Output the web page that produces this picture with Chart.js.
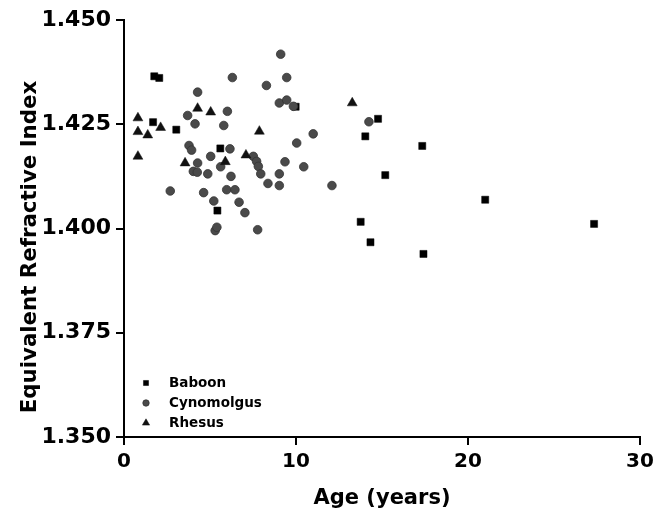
<!DOCTYPE html>
<html><head><meta charset="utf-8">
<script src="https://cdn.jsdelivr.net/npm/chart.js@4.4.1/dist/chart.umd.min.js"></script>
<style>html,body{margin:0;padding:0;background:#fff;}</style>
</head><body>
<canvas id="c" width="666" height="517"></canvas>
<script>
const seriesNames = ['Baboon', 'Cynomolgus', 'Rhesus'];
const xTicks = [0, 10, 20, 30];
const yTicks = [1.350, 1.375, 1.400, 1.425, 1.450];

const baboonAge = [1.76, 2.05, 1.69, 3.04, 5.60, 5.43, 9.98, 14.77, 14.03, 17.34, 15.19, 21.0, 13.76, 14.33, 17.41, 27.33];
const baboonRI  = [1.4365, 1.4361, 1.4255, 1.4237, 1.4192, 1.4043, 1.4292, 1.4263, 1.4221, 1.4198, 1.4128, 1.4069, 1.4016, 1.3967, 1.3939, 1.4011];

const cynoAge = [9.11, 6.30, 9.46, 8.28, 4.28, 9.03, 9.46, 9.85, 3.70, 4.13, 6.01, 5.80, 10.04, 11.0, 3.78, 3.93, 5.04, 4.28, 4.03, 4.26, 4.87, 5.62, 6.16, 6.22, 5.97, 6.45, 2.69, 4.63, 5.22, 6.69, 7.03, 5.30, 5.40, 7.77, 7.52, 7.71, 7.81, 7.95, 8.37, 9.03, 9.03, 9.36, 10.45, 14.24, 12.09];
const cynoRI  = [1.4418, 1.4362, 1.4362, 1.4343, 1.4327, 1.4301, 1.4308, 1.4293, 1.4271, 1.4251, 1.4281, 1.4247, 1.4205, 1.4227, 1.4199, 1.4188, 1.4173, 1.4157, 1.4137, 1.4135, 1.4131, 1.4148, 1.4191, 1.4125, 1.4093, 1.4093, 1.4090, 1.4086, 1.4066, 1.4063, 1.4038, 1.3995, 1.4003, 1.3997, 1.4173, 1.4161, 1.4149, 1.4131, 1.4108, 1.4131, 1.4103, 1.4160, 1.4148, 1.4256, 1.4103];

const rhesusAge = [0.81, 0.81, 1.38, 2.13, 0.81, 3.55, 4.28, 5.04, 5.89, 7.09, 7.87, 13.27];
const rhesusRI  = [1.4265, 1.4232, 1.4224, 1.4242, 1.4173, 1.4157, 1.4288, 1.4279, 1.4160, 1.4176, 1.4233, 1.4301];

const FONT = "'DejaVu Sans', 'Liberation Sans', sans-serif";
Chart.defaults.font.family = FONT;
Chart.defaults.font.weight = 'bold';
Chart.defaults.color = '#000';

function pts(xs, ys) { return xs.map((x, i) => ({x: x, y: ys[i]})); }

const legendRadius = [3.6, 3.2, 4.2];

const insideLegend = {
  id: 'insideLegend',
  afterDatasetsDraw(chart) {
    const ctx = chart.ctx, area = chart.chartArea;
    const x0 = area.left + 22, y0 = area.bottom - 54;
    chart.data.datasets.forEach((d, i) => {
      const y = y0 + i * 20;
      ctx.save();
      ctx.fillStyle = d.backgroundColor;
      ctx.strokeStyle = d.borderColor;
      ctx.lineWidth = d.borderWidth;
      Chart.helpers.drawPoint(ctx, {pointStyle: d.pointStyle, radius: legendRadius[i], borderWidth: d.borderWidth, rotation: 0}, x0, y);
      ctx.fillStyle = '#000';
      ctx.font = "bold 13.5px " + FONT;
      ctx.textBaseline = 'middle';
      ctx.textAlign = 'left';
      ctx.fillText(d.label, x0 + 23, y);
      ctx.restore();
    });
  }
};

new Chart(document.getElementById('c'), {
  type: 'scatter',
  data: {
    datasets: [
      {label: seriesNames[0], data: pts(baboonAge, baboonRI), pointStyle: 'rect', pointRadius: 5, pointHoverRadius: 5,
       backgroundColor: '#000000', borderColor: '#000000', borderWidth: 0.5, order: 3},
      {label: seriesNames[1], data: pts(cynoAge, cynoRI), pointStyle: 'circle', pointRadius: 4.3, pointHoverRadius: 4.3,
       backgroundColor: '#4a4a4a', borderColor: '#333333', borderWidth: 0.8, order: 2},
      {label: seriesNames[2], data: pts(rhesusAge, rhesusRI), pointStyle: 'triangle', pointRadius: 5.7, pointHoverRadius: 5.7,
       backgroundColor: '#111111', borderColor: '#111111', borderWidth: 0.5, order: 1}
    ]
  },
  options: {
    responsive: false,
    animation: false,
    devicePixelRatio: 1,
    layout: {padding: {top: 20, right: 26, left: 0, bottom: 0}},
    plugins: {legend: {display: false}, tooltip: {enabled: false}},
    scales: {
      x: {
        type: 'linear', min: 0, max: 30,
        afterBuildTicks: s => { s.ticks = xTicks.map(v => ({value: v})); },
        afterFit: s => { s.height = 80; },
        ticks: {font: {size: 20, weight: 'bold'}, color: '#000', padding: 5},
        grid: {drawOnChartArea: false, drawTicks: true, tickLength: 8, color: '#000', lineWidth: 2},
        border: {display: true, color: '#000', width: 2},
        title: {display: true, text: 'Age (years)', color: '#000', font: {size: 21, weight: 'bold'}, padding: {top: 0, bottom: 6}}
      },
      y: {
        type: 'linear', min: 1.35, max: 1.45,
        afterBuildTicks: s => { s.ticks = yTicks.map(v => ({value: v})); },
        afterFit: s => { s.width = 124; },
        ticks: {font: {size: 22, weight: 'bold'}, color: '#000', padding: 5, callback: v => Number(v).toFixed(3)},
        grid: {drawOnChartArea: false, drawTicks: true, tickLength: 8, color: '#000', lineWidth: 2},
        border: {display: true, color: '#000', width: 2},
        title: {display: true, text: 'Equivalent Refractive Index     ', color: '#000', font: {size: 21.3, weight: 'bold'}, padding: {top: 18, bottom: 0}}
      }
    }
  },
  plugins: [insideLegend]
});
</script>
</body></html>
